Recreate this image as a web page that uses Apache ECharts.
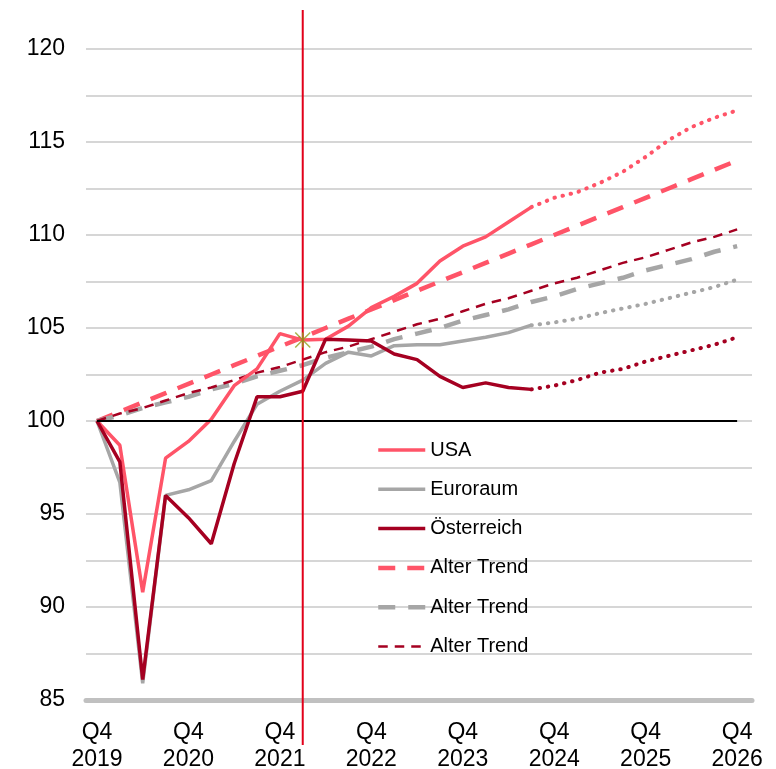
<!DOCTYPE html>
<html>
<head>
<meta charset="utf-8">
<script src="https://cdn.jsdelivr.net/npm/echarts@6/dist/echarts.min.js"></script>
<style>
  html, body { margin: 0; padding: 0; background: #ffffff; }
  #chart { width: 776px; height: 769px; }
</style>
</head>
<body>
<div id="chart"></div>
<script>
// ---- data ----
const categories = [
  'Q4 2019','Q1 2020','Q2 2020','Q3 2020','Q4 2020',
  'Q1 2021','Q2 2021','Q3 2021','Q4 2021',
  'Q1 2022','Q2 2022','Q3 2022','Q4 2022',
  'Q1 2023','Q2 2023','Q3 2023','Q4 2023',
  'Q1 2024','Q2 2024','Q3 2024','Q4 2024',
  'Q1 2025','Q2 2025','Q3 2025','Q4 2025',
  'Q1 2026','Q2 2026','Q3 2026','Q4 2026'
];
const yTickLabels = [85, 90, 95, 100, 105, 110, 115, 120];

const usa = [100, 98.7, 90.8, 98.0, 98.9, 100.1, 101.9, 102.8, 104.7, 104.35, 104.4, 105.1, 106.1, 106.7, 107.4, 108.6, 109.4, 109.9, 110.7, 111.5,
  null, null, null, null, null, null, null, null, null];
const usaForecast = [null, null, null, null, null, null, null, null, null, null, null, null, null, null, null, null, null, null, null,
  111.5, 112.0, 112.3, 112.8, 113.4, 114.2, 115.1, 115.8, 116.3, 116.7];
const usaTrend = [100, 100.5, 101.0, 101.5, 102.0, 102.5, 103.0, 103.5, 104.0, 104.5, 105.0, 105.5, 106.0, 106.5, 107.0,
  107.5, 108.0, 108.5, 109.0, 109.5, 110.0, 110.5, 111.0, 111.5, 112.0, 112.5, 113.0, 113.5, 114.0];

const euro = [100, 96.7, 85.9, 96.0, 96.3, 96.8, 98.9, 100.9, 101.6, 102.2, 103.1, 103.7, 103.5, 104.05, 104.1, 104.1, 104.3, 104.5, 104.75, 105.15,
  null, null, null, null, null, null, null, null, null];
const euroForecast = [null, null, null, null, null, null, null, null, null, null, null, null, null, null, null, null, null, null, null,
  105.15, 105.3, 105.5, 105.8, 106.05, 106.3, 106.6, 106.9, 107.2, 107.6];
const euroTrend = [100, 100.3, 100.7, 101.0, 101.3, 101.7, 102.0, 102.4, 102.7, 103.0, 103.4, 103.7, 104.0, 104.4, 104.7,
  105.0, 105.4, 105.7, 106.0, 106.4, 106.7, 107.1, 107.4, 107.7, 108.1, 108.4, 108.7, 109.1, 109.4];

const aut = [100, 97.8, 86.1, 96.0, 94.8, 93.4, 97.7, 101.3, 101.3, 101.6, 104.4, 104.35, 104.3, 103.6, 103.3, 102.4, 101.8, 102.05, 101.8, 101.7,
  null, null, null, null, null, null, null, null, null];
const autForecast = [null, null, null, null, null, null, null, null, null, null, null, null, null, null, null, null, null, null, null,
  101.7, 101.9, 102.2, 102.6, 102.8, 103.2, 103.5, 103.8, 104.1, 104.5];
const autTrend = [100, 100.4, 100.7, 101.1, 101.5, 101.8, 102.2, 102.6, 102.9, 103.3, 103.7, 104.0, 104.4, 104.8, 105.2,
  105.5, 105.9, 106.3, 106.6, 107.0, 107.4, 107.7, 108.1, 108.5, 108.8, 109.2, 109.6, 109.9, 110.3];

const baseValue = 100;
const markerQuarter = 'Q1 2022';
const legendLabels = ['USA', 'Euroraum', 'Österreich', 'Alter Trend', 'Alter Trend', 'Alter Trend'];

// ---- helpers ----
const pairs = arr => arr.map((v, i) => [i, v]);
const markerIdx = categories.indexOf(markerQuarter);
const q4Idx = categories.map((c, i) => c.startsWith('Q4') ? i : -1).filter(i => i >= 0);

const C_USA = '#ff5468';
const C_EURO = '#a6a6a6';
const C_AUT = '#a50021';
const FONT = 'Liberation Sans, Arial, sans-serif';

const seriesNames = ['USA', 'Euroraum', 'Österreich', 'trendUSA', 'trendEuro', 'trendAUT'];

const chart = echarts.init(document.getElementById('chart'), null, { renderer: 'canvas' });

const X_MIN = -0.48, X_MAX = 28.65;

const option = {
  backgroundColor: '#ffffff',
  animation: false,
  grid: [
    { left: 86, right: 24, top: 49, bottom: 69, containLabel: false, outerBoundsMode: 'none' },
    { left: 86, right: 24, top: 10, bottom: 24, containLabel: false, outerBoundsMode: 'none' }
  ],
  xAxis: [
    {
      type: 'value', gridIndex: 0, min: X_MIN, max: X_MAX,
      splitLine: { show: false },
      axisTick: { show: false },
      axisLine: { show: true, onZero: false, lineStyle: { color: '#c0c0c0', width: 5 } },
      axisLabel: {
        customValues: q4Idx,
        formatter: v => categories[Math.round(v)].replace(' ', '\n'),
        color: '#000', fontFamily: FONT, fontSize: 23, lineHeight: 27, margin: 19
      }
    },
    {
      type: 'value', gridIndex: 1, min: X_MIN, max: X_MAX, show: false
    }
  ],
  yAxis: [
    {
      type: 'value', gridIndex: 0, min: 85, max: 120, interval: 2.5,
      axisLine: { show: false }, axisTick: { show: false },
      splitLine: { show: true, lineStyle: { color: '#c8c8c8', width: 1.5 } },
      axisLabel: {
        formatter: v => yTickLabels.includes(v) ? String(v) : '',
        color: '#000', fontFamily: FONT, fontSize: 23, margin: 21
      }
    },
    { type: 'value', gridIndex: 1, min: 0, max: 1, show: false }
  ],
  legend: {
    orient: 'vertical',
    left: 371, top: 435,
    itemWidth: 47, itemHeight: 20, itemGap: 19.3,
    data: seriesNames,
    formatter: name => legendLabels[seriesNames.indexOf(name)],
    itemStyle: { opacity: 0 },
    lineStyle: { width: 'inherit', type: 'inherit', cap: 'butt' },
    textStyle: { color: '#000', fontFamily: FONT, fontSize: 20, lineHeight: 20 },
    selectedMode: false
  },
  series: [
    {
      name: 'trendUSA', type: 'line', data: pairs(usaTrend), symbol: 'none', z: 2,
      lineStyle: { color: C_USA, width: 4.5, type: [17, 12] }, itemStyle: { color: C_USA }
    },
    {
      name: 'trendEuro', type: 'line', data: pairs(euroTrend), symbol: 'none', z: 2,
      lineStyle: { color: C_EURO, width: 4.5, type: [17, 13] }, itemStyle: { color: C_EURO }
    },
    {
      name: 'trendAUT', type: 'line', data: pairs(autTrend), symbol: 'none', z: 2,
      lineStyle: { color: C_AUT, width: 2.5, type: [9.5, 7] }, itemStyle: { color: C_AUT }
    },
    {
      name: 'USA', type: 'line', data: pairs(usa), symbol: 'none', z: 3,
      lineStyle: { color: C_USA, width: 3.5 }, itemStyle: { color: C_USA }
    },
    {
      name: 'Euroraum', type: 'line', data: pairs(euro), symbol: 'none', z: 3,
      lineStyle: { color: C_EURO, width: 3.5 }, itemStyle: { color: C_EURO },
      markLine: {
        silent: true, symbol: 'none', label: { show: false },
        lineStyle: { color: '#000', width: 2, type: 'solid' },
        data: [[{ coord: [0, baseValue] }, { coord: [categories.length - 1, baseValue] }]]
      }
    },
    {
      name: 'Österreich', type: 'line', data: pairs(aut), symbol: 'none', z: 3,
      lineStyle: { color: C_AUT, width: 3.5 }, itemStyle: { color: C_AUT }
    },
    {
      name: 'USA Prognose', type: 'line', data: pairs(usaForecast), symbol: 'none', z: 3,
      lineStyle: { color: C_USA, width: 4, type: [0.5, 7.8], cap: 'round' }
    },
    {
      name: 'Euroraum Prognose', type: 'line', data: pairs(euroForecast), symbol: 'none', z: 3,
      lineStyle: { color: C_EURO, width: 4, type: [0.5, 7.8], cap: 'round' }
    },
    {
      name: 'Österreich Prognose', type: 'line', data: pairs(autForecast), symbol: 'none', z: 3,
      lineStyle: { color: C_AUT, width: 4, type: [0.5, 7.8], cap: 'round' }
    },
    {
      name: 'Zeitpunkt', type: 'line', xAxisIndex: 1, yAxisIndex: 1, z: 5,
      data: [[markerIdx, 0], [markerIdx, 1]], symbol: 'none',
      lineStyle: { color: '#e2001a', width: 2 }
    },
    {
      name: 'Marker', type: 'scatter', z: 6,
      data: [[markerIdx, usa[markerIdx]]],
      symbol: 'path://M0 0L10 10M10 0L0 10M5 0L5 10',
      symbolSize: 15,
      itemStyle: { color: 'rgba(0,0,0,0)', borderColor: '#92a11e', borderWidth: 1.5 }
    }
  ]
};

chart.setOption(option);
</script>
</body>
</html>
